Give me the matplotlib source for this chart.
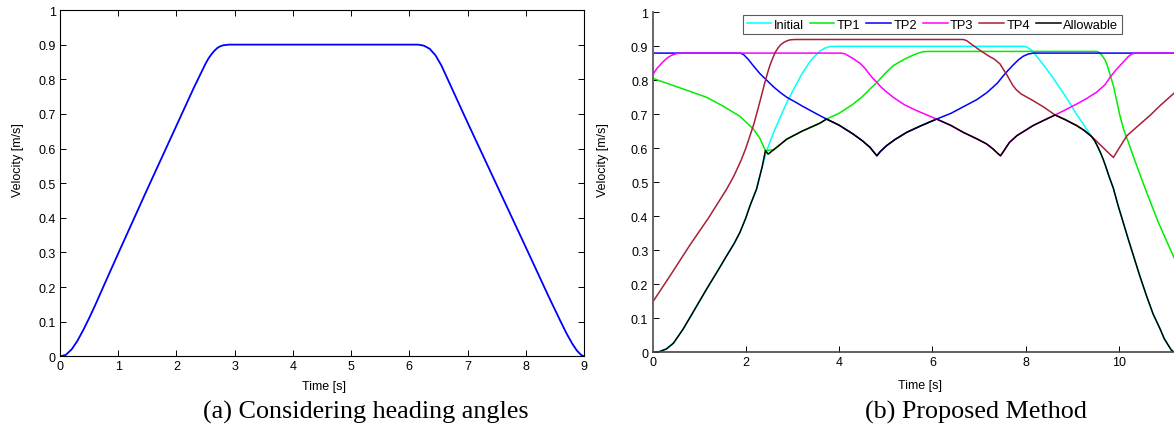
import matplotlib
matplotlib.use("Agg")
from matplotlib import pyplot as plt

# (a) velocity profile considering heading angles
a_time = [0, 0.1, 0.2, 0.3, 0.4, 0.5, 0.6, 0.75, 1.0, 1.5, 2.0, 2.3, 2.5, 2.55, 2.6, 2.65, 2.7, 2.75, 2.8, 2.9,
          6.15, 6.25, 6.35, 6.45, 6.55, 7.0, 7.5, 8.0, 8.4, 8.6, 8.7, 8.8, 8.88, 8.95, 9.0]
a_vel = [0, 0.004, 0.02, 0.045, 0.076, 0.11, 0.146, 0.203, 0.297, 0.483, 0.666, 0.776, 0.845, 0.86, 0.872, 0.882, 0.89, 0.895, 0.898, 0.9,
         0.9, 0.897, 0.888, 0.869, 0.84, 0.675, 0.495, 0.315, 0.17, 0.1, 0.066, 0.036, 0.016, 0.004, 0]

# (b) proposed method
allow_t = [0, 0.15, 0.3, 0.45, 0.66, 0.9, 1.16, 1.4, 1.59, 1.75, 1.875, 2.0, 2.09, 2.23, 2.35, 2.42, 2.48, 2.6,
           2.88, 3.2, 3.59, 3.73, 4.0, 4.3, 4.5, 4.66, 4.75, 4.81, 4.88, 5.02, 5.2, 5.45, 5.75, 6.09, 6.4, 6.66,
           6.95, 7.16, 7.3, 7.4, 7.46, 7.52, 7.65, 7.81, 8.16, 8.4, 8.63, 8.85, 9.09, 9.25, 9.41, 9.48, 9.55,
           9.61, 9.66, 9.72, 9.78, 9.88, 9.98, 10.09, 10.2, 10.31, 10.45, 10.59, 10.73, 10.88, 10.97, 11.06,
           11.12, 11.18]
allow_v = [0, 0.002, 0.01, 0.027, 0.069, 0.125, 0.186, 0.24, 0.284, 0.32, 0.353, 0.395, 0.431, 0.48, 0.545, 0.593, 0.583, 0.596,
           0.627, 0.65, 0.674, 0.686, 0.668, 0.642, 0.622, 0.603, 0.588, 0.578, 0.59, 0.608, 0.626, 0.647, 0.666, 0.686, 0.667, 0.647,
           0.628, 0.613, 0.598, 0.585, 0.578, 0.59, 0.617, 0.637, 0.667, 0.683, 0.698, 0.684, 0.667, 0.653, 0.635, 0.622, 0.603,
           0.585, 0.568, 0.545, 0.52, 0.482, 0.432, 0.382, 0.332, 0.284, 0.223, 0.166, 0.113, 0.069, 0.04, 0.02,
           0.007, 0]

init_t = [0, 0.15, 0.3, 0.45, 0.66, 0.9, 1.16, 1.4, 1.59, 1.75, 1.875, 2.0, 2.09, 2.23, 2.35, 2.45, 2.52, 2.6, 2.75,
          2.88, 3.05, 3.2, 3.35, 3.47, 3.6, 3.7, 3.8, 3.9, 7.95, 8.02, 8.08, 8.16, 8.28, 8.4, 8.55, 8.7, 8.9,
          9.09, 9.25, 9.41, 9.48, 9.55, 9.61, 9.66, 9.72, 9.78, 9.88, 9.98, 10.09, 10.2, 10.31, 10.45, 10.59,
          10.73, 10.88, 10.97, 11.06, 11.12, 11.18]
init_v = [0, 0.002, 0.01, 0.027, 0.069, 0.125, 0.186, 0.24, 0.284, 0.32, 0.353, 0.395, 0.431, 0.48, 0.545, 0.593, 0.62, 0.648, 0.695,
          0.735, 0.78, 0.818, 0.85, 0.87, 0.887, 0.895, 0.899, 0.9, 0.9, 0.898, 0.893, 0.884, 0.863, 0.842, 0.814, 0.784, 0.743,
          0.70, 0.668, 0.635, 0.622, 0.603, 0.585, 0.568, 0.545, 0.52, 0.482, 0.432, 0.382, 0.332, 0.284, 0.223, 0.166,
          0.113, 0.069, 0.04, 0.02, 0.007, 0]

tp1_t = [0, 0.5, 1.16, 1.5, 1.875, 2.16, 2.3, 2.42, 2.6, 2.88, 3.2, 3.59, 3.73, 4.0, 4.3, 4.5, 4.66, 4.81,
         5.0, 5.16, 5.4, 5.6, 5.7, 5.8, 5.9, 9.52, 9.58, 9.64, 9.7, 9.74, 9.8, 9.88, 9.95, 10.02, 10.1, 10.2,
         10.35, 10.56, 10.85, 11.18]
tp1_v = [0.806, 0.782, 0.75, 0.725, 0.694, 0.657, 0.63, 0.593, 0.596, 0.627, 0.65, 0.674, 0.686, 0.703, 0.73, 0.752, 0.774, 0.794,
         0.822, 0.843, 0.862, 0.875, 0.88, 0.884, 0.885, 0.885, 0.882, 0.872, 0.86, 0.848, 0.82, 0.784, 0.74, 0.696, 0.655, 0.618,
         0.56, 0.482, 0.38, 0.278]

tp2_t = [0, 1.875, 1.95, 2.05, 2.16, 2.3, 2.45, 2.6, 2.75, 2.88, 3.05, 3.2, 3.4, 3.59, 3.73, 4.0, 4.3, 4.5, 4.66,
         4.75, 4.81, 4.88, 5.02, 5.2, 5.45, 5.75, 6.09, 6.4, 6.66, 6.95, 7.16, 7.3, 7.4, 7.5, 7.6, 7.73, 7.85,
         7.95, 8.05, 8.16, 11.18]
tp2_v = [0.88, 0.88, 0.876, 0.862, 0.843, 0.82, 0.8, 0.78, 0.763, 0.75, 0.737, 0.725, 0.71, 0.696, 0.686, 0.668, 0.642, 0.622, 0.603,
         0.588, 0.578, 0.59, 0.608, 0.626, 0.647, 0.666, 0.686, 0.703, 0.722, 0.743, 0.763, 0.78, 0.793, 0.81, 0.826, 0.845, 0.861,
         0.871, 0.877, 0.88, 0.88]

tp3_t = [0, 0.05, 0.1, 0.17, 0.23, 0.32, 0.4, 0.5, 0.59, 4.05, 4.12, 4.2, 4.3, 4.45, 4.55, 4.65, 4.73, 4.81, 4.9,
         5.0, 5.16, 5.4, 5.66, 5.9, 6.09, 6.4, 6.66, 6.95, 7.16, 7.3, 7.4, 7.46, 7.52, 7.65, 7.81, 8.16, 8.4,
         8.63, 8.85, 9.09, 9.3, 9.52, 9.7, 9.81, 9.92, 10.02, 10.1, 10.2, 10.27, 10.35, 11.18]
tp3_v = [0.814, 0.826, 0.836, 0.846, 0.855, 0.866, 0.873, 0.878, 0.88, 0.88, 0.878, 0.872, 0.864, 0.85, 0.836, 0.818, 0.805, 0.794, 0.78,
         0.768, 0.75, 0.728, 0.711, 0.697, 0.686, 0.667, 0.647, 0.628, 0.613, 0.598, 0.585, 0.578, 0.59, 0.617, 0.637, 0.667, 0.683,
         0.698, 0.713, 0.73, 0.746, 0.765, 0.787, 0.809, 0.828, 0.843, 0.855, 0.87, 0.877, 0.88, 0.88]

tp4_t = [0, 0.4, 0.8, 1.2, 1.59, 1.75, 1.9, 2.0, 2.09, 2.18, 2.25, 2.33, 2.41, 2.47, 2.52, 2.58, 2.63, 2.69, 2.75,
         2.82, 2.88, 2.95, 3.05, 6.66, 6.73, 6.8, 6.9, 7.0, 7.1, 7.2, 7.33, 7.45, 7.53, 7.6, 7.67, 7.73, 7.8, 7.9,
         8.03, 8.16, 8.4, 8.63, 8.85, 9.09, 9.25, 9.41, 9.6, 9.75, 9.88, 10.0, 10.17, 10.4, 10.66, 10.9, 11.18]
tp4_v = [0.147, 0.23, 0.315, 0.395, 0.48, 0.52, 0.565, 0.6, 0.637, 0.675, 0.71, 0.752, 0.794, 0.823, 0.845, 0.866, 0.882, 0.895, 0.905,
         0.912, 0.916, 0.919, 0.92, 0.92, 0.917, 0.91, 0.9, 0.89, 0.881, 0.872, 0.862, 0.848, 0.83, 0.815, 0.798, 0.784, 0.772, 0.76,
         0.75, 0.74, 0.72, 0.698, 0.684, 0.667, 0.653, 0.635, 0.61, 0.59, 0.573, 0.6, 0.637, 0.665, 0.696, 0.728, 0.762]

series = [
    ("Initial", init_t, init_v, "#00ffff"),
    ("TP1", tp1_t, tp1_v, "#00ee00"),
    ("TP2", tp2_t, tp2_v, "#0000ff"),
    ("TP3", tp3_t, tp3_v, "#ff00ff"),
    ("TP4", tp4_t, tp4_v, "#a82038"),
    ("Allowable", allow_t, allow_v, "#000000"),
]

plt.rcParams["font.family"] = ["Liberation Sans", "DejaVu Sans"]
plt.rcParams["font.size"] = 9

W, H = 1174, 427
fig = plt.figure(figsize=(W / 100, H / 100), dpi=100)


def style_axes(ax):
    ax.tick_params(direction="in", length=4, width=0.7, labelsize=9, pad=3)
    for s in ax.spines.values():
        s.set_linewidth(0.8)


# left panel
ax1 = fig.add_axes([60 / W, (H - 357.3) / H, 524 / W, 346.3 / H])
ax1.plot(a_time, a_vel, color="#0000ff", linewidth=1.3)
ax1.set_xlim(0, 9)
ax1.set_ylim(0, 1)
ax1.set_xticks(range(10))
ax1.set_yticks([i / 10 for i in range(11)])
ax1.set_yticklabels(["0"] + ["0.%d" % i for i in range(1, 10)] + ["1"])
ax1.tick_params(top=True, right=True)
style_axes(ax1)

# right panel
ax2 = fig.add_axes([652.5 / W, (H - 353.3) / H, (W - 652.5) / W, 340 / H])
for name, t, v, c in series:
    ax2.plot(t, v, color=c, linewidth=1.1, label=name)
ax2.set_xlim(0, (W - 652.5) / 46.65)
ax2.set_ylim(0, 1)
ax2.set_xticks([0, 2, 4, 6, 8, 10])
ax2.set_yticks([i / 10 for i in range(11)])
ax2.set_yticklabels(["0"] + ["0.%d" % i for i in range(1, 10)] + ["1"])
style_axes(ax2)
ax2.spines["top"].set_visible(False)
ax2.spines["right"].set_visible(False)
ax2.spines["left"].set_color("#666666")
ax2.spines["bottom"].set_color("#444444")
ax2.spines["left"].set_linewidth(1.4)
ax2.spines["bottom"].set_linewidth(1.2)

leg = ax2.legend(loc="center", bbox_to_anchor=((743 + 1122) / 2 / W, 1 - 25.5 / H),
                 bbox_transform=fig.transFigure, ncol=6, frameon=True, fancybox=False,
                 handlelength=1.9, handletextpad=0.2, columnspacing=0.45, borderpad=0.3,
                 fontsize=9.3, borderaxespad=0)
leg.get_frame().set_edgecolor("#333333")
leg.get_frame().set_linewidth(0.8)

# axis labels
fig.text(323.6 / W, 1 - 387 / H, "Time [s]", ha="center", va="center", fontsize=9)
fig.text(920 / W, 1 - 386 / H, "Time [s]", ha="center", va="center", fontsize=9)
fig.text(18 / W, 1 - 160 / H, "Velocity [m/s]", ha="center", va="center", rotation=90, fontsize=9)
fig.text(603 / W, 1 - 160 / H, "Velocity [m/s]", ha="center", va="center", rotation=90, fontsize=9)

# captions
fig.text(365.5 / W, 1 - 412 / H, "(a) Considering heading angles", ha="center", va="center",
         fontsize=18.8, family="Liberation Serif")
fig.text(976 / W, 1 - 412 / H, "(b) Proposed Method", ha="center", va="center",
         fontsize=18.8, family="Liberation Serif")

fig.savefig("out.png", dpi=100)
